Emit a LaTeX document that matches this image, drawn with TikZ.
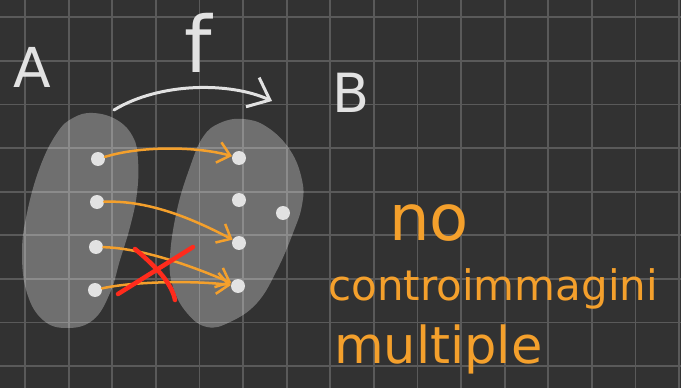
\documentclass[tikz,border=0pt]{standalone}
\usepackage{fontspec}
\setmainfont{DejaVu Sans}
\usepackage{tikz}
\usetikzlibrary{arrows.meta, positioning}

\definecolor{board}{HTML}{323232}
\definecolor{gridgray}{HTML}{5A5A5A}
\definecolor{chalk}{HTML}{E2E2E2}
\definecolor{marker}{HTML}{F4A02C}
\definecolor{crossred}{HTML}{FF2B1C}

\begin{document}
\begin{tikzpicture}[
    x=1pt, y=-1pt,
    gridline/.style={gridgray, line width=1.8pt},
    blob/.style={fill=white, fill opacity=0.3, draw=none},
    dot/.style={circle, fill=chalk, minimum size=14pt, inner sep=0pt},
    maparrow/.style={-{Straight Barb[length=19pt, width=32pt]}, chalk, line width=3pt, line cap=round},
    arrow/.style={-{Straight Barb[length=12pt, width=21pt]}, marker, line width=2.5pt, line cap=round},
    cross/.style={crossred, line width=4.5pt, line cap=round},
    label/.style={text=chalk, inner sep=0pt, anchor=base west},
    note/.style={text=marker, inner sep=0pt, anchor=base west}
]

% BOARD
\useasboundingbox (0,0) rectangle (681,388);
\fill[board] (0,0) rectangle (681,388);
\foreach \i in {0,...,15}
    \draw[gridline] ({25+43.6*\i},0) -- ({25+43.6*\i},388);
\foreach \j in {0,...,8}
    \draw[gridline] (0,{17.3+43.6*\j}) -- (681,{17.3+43.6*\j});

% SETS
% Set A
\fill[blob] plot[smooth cycle, tension=0.7] coordinates {
    (93,113) (117,120) (133,137) (138,160) (137,193) (130,227) (120,260)
    (110,293) (93,320) (67,328) (43,320) (27,293) (22,253) (27,213)
    (40,167) (57,133) (73,118)};
% Set B
\fill[blob] plot[smooth cycle, tension=0.7] coordinates {
    (243,119) (267,127) (290,150) (302,180) (302,205) (293,233) (277,270)
    (257,303) (230,322) (207,327) (187,313) (173,287) (170,257) (177,210)
    (190,167) (203,137) (220,123)};

% Elements of A
\node[dot] (a1) at (98,159) {};
\node[dot] (a2) at (97,202) {};
\node[dot] (a3) at (96,247) {};
\node[dot] (a4) at (95,290) {};

% Elements of B
\node[dot] (b1) at (239,158) {};
\node[dot] (b2) at (239,200) {};
\node[dot] (b3) at (239,243) {};
\node[dot] (b4) at (238,286) {};
\node[dot] (b5) at (283,213) {};

% LABELS
\node[label, font=\fontsize{55}{60}\selectfont] (setA) at (13,87) {A};
\node[label, font=\fontsize{54}{60}\selectfont] (setB) at (332,112) {B};
\node[label, font=\fontsize{78}{84}\selectfont] (mapf) at (184,72) {f};

% MAP f
\coordinate (fstart) at (114,110);
\coordinate (fend) at (272,101);
\draw[maparrow] (fstart) .. controls (160,82) and (230,82) .. (fend);

% ARROWS
\draw[arrow] (a1) .. controls (140,146) and (195,146) .. (b1);
\draw[arrow] (a2) .. controls (150,200) and (195,220) .. (b3);
\draw[arrow] (a3) .. controls (140,248) and (190,265) .. (b4);
\draw[arrow] (a4) .. controls (130,282) and (190,280) .. (b4);

% Not allowed: two elements with the same image
\draw[cross] (118,294) -- (193,247);
\draw[cross] (135,249) .. controls (160,270) and (172,285) .. (175,300);

% NOTE
\node[note, font=\fontsize{64}{70}\selectfont] (noteNo) at (389,240) {no};
\node[note, font=\fontsize{42}{48}\selectfont] (noteCtr) at (328,300) {controimmagini};
\node[note, font=\fontsize{51}{56}\selectfont] (noteMul) at (334,363) {multiple};

\end{tikzpicture}
\end{document}
